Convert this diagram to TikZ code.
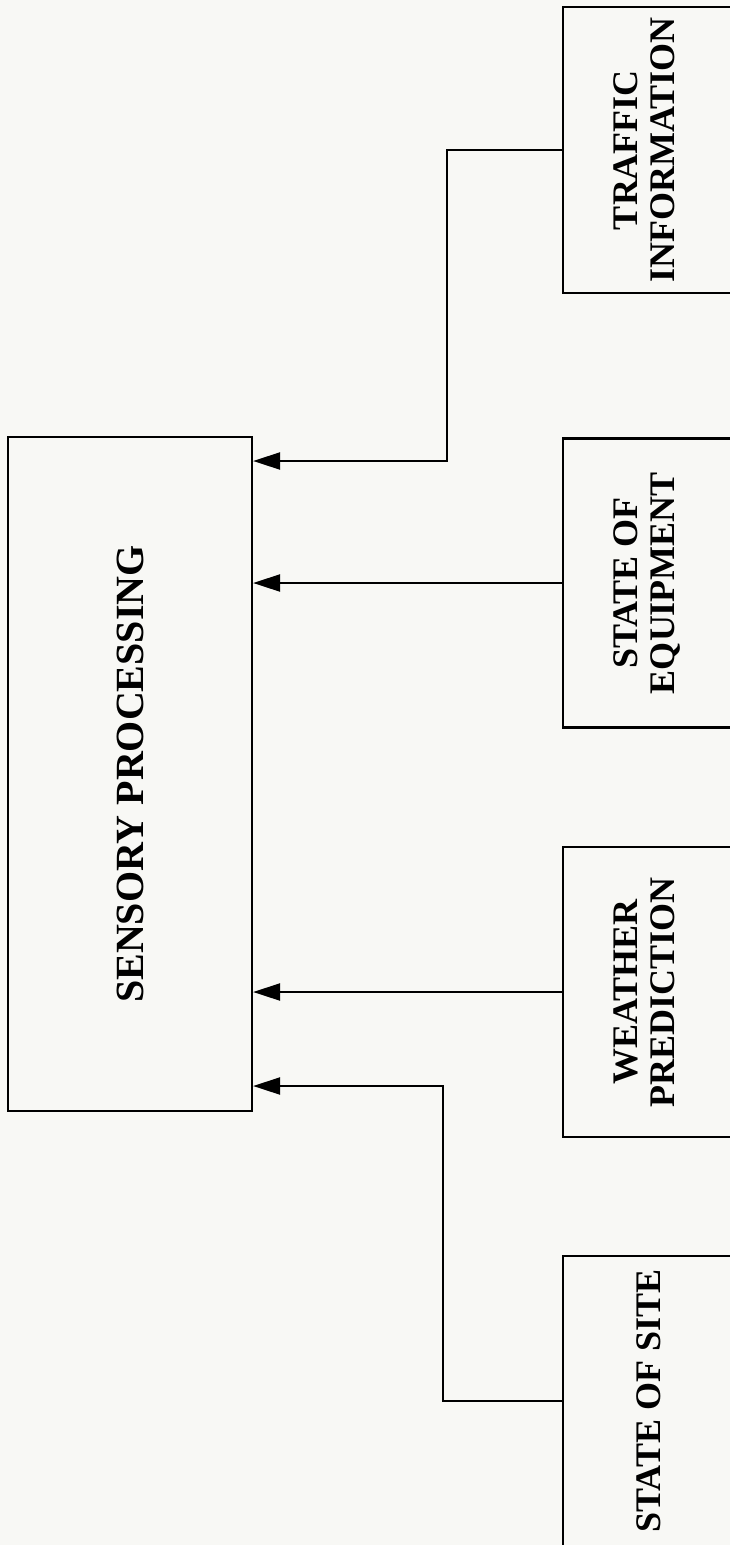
\documentclass[tikz,border=0pt]{standalone}
\usepackage{fontspec}
\setmainfont{Liberation Serif}
\usepackage{graphicx}
\usetikzlibrary{arrows.meta}
\definecolor{paper}{RGB}{248,248,245}

\begin{document}
\begin{tikzpicture}[x=1pt, y=-1pt,
  blk/.style={draw, line width=2.2pt, inner sep=0pt, font=\fontsize{36}{37}\selectfont\bfseries},
  feed/.style={line width=2.2pt, -{Triangle[length=27pt,width=17pt]}}]
\useasboundingbox[fill=paper] (0,0) rectangle (730,1545);
\clip (0,0) rectangle (730,1545);
% main box
\node[blk, minimum width=244pt, minimum height=674pt, font=\fontsize{40}{42}\selectfont\bfseries] (sens) at (130,774)
  {\rotatebox{90}{SENSORY PROCESSING}};
% input boxes, cut at the right edge
\node[blk, minimum width=172pt, minimum height=286pt] (traf) at (649,150)
  {\rotatebox{90}{\begin{tabular}{@{}c@{}}TRAFFIC\\INFORMATION\end{tabular}}};
\node[blk, minimum width=172pt, minimum height=289pt] (equip) at (649,583)
  {\rotatebox{90}{\begin{tabular}{@{}c@{}}STATE OF\\EQUIPMENT\end{tabular}}};
\node[blk, minimum width=172pt, minimum height=290pt] (wthr) at (649,992)
  {\rotatebox{90}{\begin{tabular}{@{}c@{}}WEATHER\\PREDICTION\end{tabular}}};
\node[blk, minimum width=172pt, minimum height=290pt] (site) at (649,1401)
  {\rotatebox{90}{STATE OF SITE}};
% bends
\coordinate (jt) at (447,461);
\coordinate (js) at (443,1086);
\draw[feed] (traf.west) -| (jt) -- (sens.east |- jt);
\draw[feed] (equip.west) -- (sens.east |- equip.west);
\draw[feed] (wthr.west) -- (sens.east |- wthr.west);
\draw[feed] (site.west) -| (js) -- (sens.east |- js);
\end{tikzpicture}
\end{document}
